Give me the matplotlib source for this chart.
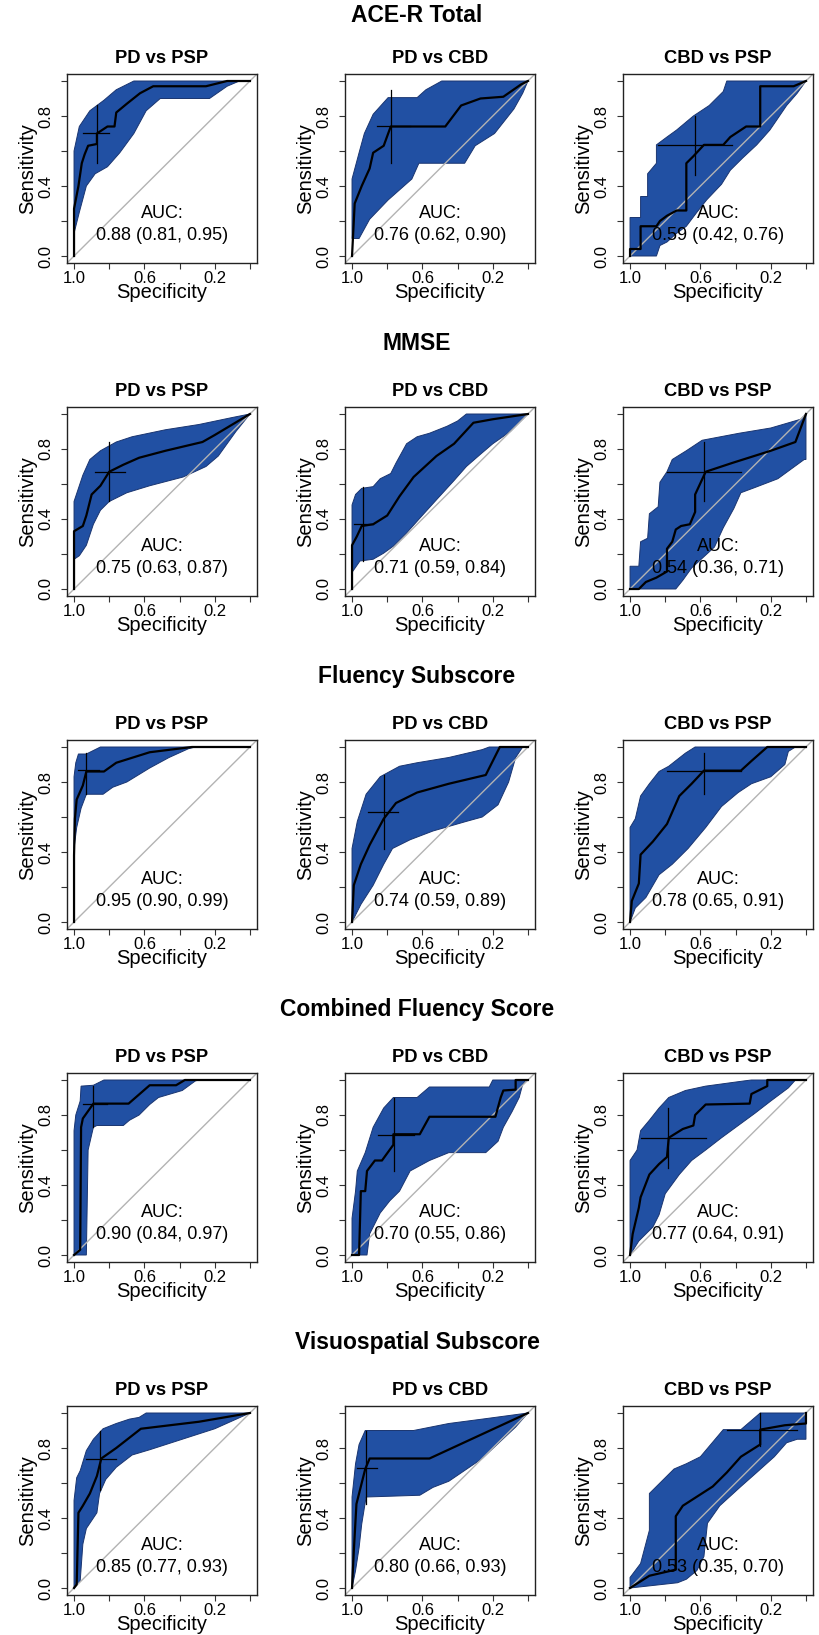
import numpy as np
import matplotlib
matplotlib.use("Agg")
import matplotlib.pyplot as plt

plt.rcParams["font.family"] = ["Liberation Sans", "DejaVu Sans"]

# --- data: points as (1 - specificity, sensitivity) ---
ROW_TITLES = ["ACE-R Total", "MMSE", "Fluency Subscore",
              "Combined Fluency Score", "Visuospatial Subscore"]
COL_TITLES = ["PD vs PSP", "PD vs CBD", "CBD vs PSP"]

# ACE-R Total
ACE_PD_PSP_ROC = [(0, 0), (0, .27), (.025, .40), (.044, .53), (.06, .58), (.08, .63), (.13, .64),
                  (.13, .70), (.19, .74), (.23, .74), (.24, .82), (.30, .87), (.375, .93),
                  (.45, .97), (.75, .97), (.87, 1), (1, 1)]
ACE_PD_PSP_UPPER = [(0, .60), (.03, .74), (.09, .83), (.17, .89), (.24, .95), (.34, 1), (1, 1)]
ACE_PD_PSP_LOWER = [(0, .13), (.03, .25), (.07, .40), (.12, .47), (.19, .51), (.26, .59),
                    (.34, .70), (.41, .83), (.49, .90), (.77, .90), (.87, .97), (.94, 1), (1, 1)]
ACE_PD_PSP_CROSS = (.13, .70, .05, .20, .53, .86)
ACE_PD_PSP_AUC = "0.88 (0.81, 0.95)"

ACE_PD_CBD_ROC = [(0, 0), (.015, .30), (.055, .40), (.10, .50), (.12, .59), (.18, .63), (.22, .74),
                  (.53, .74), (.62, .86), (.73, .90), (.86, .91), (.96, .98), (1, 1)]
ACE_PD_CBD_UPPER = [(0, .44), (.04, .59), (.07, .70), (.12, .81), (.205, .905), (.37, .905),
                    (.42, .95), (.51, 1), (1, 1)]
ACE_PD_CBD_LOWER = [(0, .10), (.04, .10), (.10, .21), (.205, .32), (.34, .44), (.38, .53),
                    (.64, .53), (.70, .63), (.81, .70), (.92, .84), (.97, .93), (1, 1)]
ACE_PD_CBD_CROSS = (.22, .74, .14, .33, .53, .95)
ACE_PD_CBD_AUC = "0.76 (0.62, 0.90)"

ACE_CBD_PSP_ROC = [(0, 0), (0, .04), (.06, .04), (.06, .17), (.15, .17), (.17, .20), (.21, .23),
                   (.265, .26), (.32, .26), (.32, .53), (.36, .57), (.42, .635), (.53, .635),
                   (.57, .68), (.66, .74), (.74, .74), (.74, .97), (.93, .97), (1, 1)]
ACE_CBD_PSP_UPPER = [(0, .22), (.06, .22), (.06, .34), (.10, .34), (.10, .47), (.15, .53),
                     (.15, .635), (.21, .68), (.265, .72), (.36, .80), (.45, .86), (.53, .94),
                     (.55, 1), (1, 1)]
ACE_CBD_PSP_LOWER = [(0, 0), (.15, 0), (.17, .06), (.21, .08), (.265, .13), (.32, .17),
                     (.38, .25), (.435, .32), (.52, .41), (.57, .49), (.64, .56), (.72, .635),
                     (.795, .72), (.89, .86), (.95, .93), (1, 1)]
ACE_CBD_PSP_CROSS = (.37, .635, .16, .58, .465, .80)
ACE_CBD_PSP_AUC = "0.59 (0.42, 0.76)"

# MMSE
MMSE_PD_PSP_ROC = [(0, 0), (0, .33), (.05, .36), (.07, .42), (.10, .54), (.15, .59), (.20, .67),
                   (.28, .71), (.37, .75), (.52, .79), (.73, .84), (.80, .88), (1, 1)]
MMSE_PD_PSP_UPPER = [(0, .50), (.05, .65), (.09, .74), (.15, .79), (.24, .84), (.33, .87),
                     (.52, .91), (.71, .94), (.90, .98), (1, 1)]
MMSE_PD_PSP_LOWER = [(0, .17), (.03, .19), (.07, .25), (.11, .37), (.15, .45), (.20, .50),
                     (.30, .55), (.43, .59), (.62, .64), (.75, .70), (.82, .76), (.92, .90), (1, 1)]
MMSE_PD_PSP_CROSS = (.20, .67, .12, .29, .50, .84)
MMSE_PD_PSP_AUC = "0.75 (0.63, 0.87)"

MMSE_PD_CBD_ROC = [(0, 0), (0, .25), (.027, .30), (.055, .36), (.12, .37), (.20, .42), (.27, .53),
                   (.35, .64), (.48, .76), (.58, .83), (.69, .95), (.80, .97), (1, 1)]
MMSE_PD_CBD_UPPER = [(0, .48), (.02, .54), (.055, .575), (.12, .585), (.16, .63), (.22, .66),
                     (.25, .72), (.31, .83), (.37, .87), (.44, .89), (.54, .93), (.60, .96),
                     (.65, 1), (1, 1)]
MMSE_PD_CBD_LOWER = [(0, .095), (.045, .16), (.12, .17), (.18, .205), (.235, .245), (.31, .32),
                     (.39, .41), (.48, .51), (.58, .62), (.65, .70), (.73, .77), (.80, .83),
                     (.90, .90), (1, 1)]
MMSE_PD_CBD_CROSS = (.06, .37, .01, .12, .16, .58)
MMSE_PD_CBD_AUC = "0.71 (0.59, 0.84)"

MMSE_CBD_PSP_ROC = [(0, 0), (.05, 0), (.09, .04), (.15, .065), (.21, .10), (.21, .23), (.24, .27),
                    (.26, .34), (.29, .36), (.34, .37), (.37, .44), (.37, .54), (.43, .67),
                    (.58, .72), (.80, .79), (.94, .84), (1, 1)]
MMSE_CBD_PSP_UPPER = [(0, .13), (.05, .13), (.06, .27), (.10, .29), (.11, .43), (.16, .47),
                      (.17, .61), (.21, .67), (.24, .74), (.32, .79), (.41, .85), (.62, .89),
                      (.80, .92), (.97, .97), (1, 1)]
MMSE_CBD_PSP_LOWER = [(0, 0), (.26, 0), (.30, .05), (.35, .12), (.48, .24), (.53, .35),
                      (.59, .46), (.63, .55), (.71, .58), (.84, .63), (.99, .74), (1, .74), (1, 1)]
MMSE_CBD_PSP_CROSS = (.42, .67, .21, .63, .50, .84)
MMSE_CBD_PSP_AUC = "0.54 (0.36, 0.71)"

# Fluency Subscore
FLU_PD_PSP_ROC = [(0, 0), (0, .38), (.005, .59), (.015, .70), (.05, .78), (.07, .86), (.17, .86),
                  (.24, .91), (.43, .97), (.67, 1), (1, 1)]
FLU_PD_PSP_UPPER = [(0, .83), (.01, .91), (.025, .96), (.07, .96), (.15, 1), (1, 1)]
FLU_PD_PSP_LOWER = [(0, .42), (.015, .54), (.04, .65), (.07, .73), (.165, .73), (.22, .77),
                    (.30, .80), (.43, .88), (.54, .94), (.65, .99), (.69, 1), (1, 1)]
FLU_PD_PSP_CROSS = (.07, .867, .025, .14, .73, .965)
FLU_PD_PSP_AUC = "0.95 (0.90, 0.99)"

FLU_PD_CBD_ROC = [(0, 0), (.01, .21), (.05, .33), (.10, .44), (.18, .59), (.25, .68), (.37, .74),
                  (.55, .79), (.76, .84), (.84, 1), (1, 1)]
FLU_PD_CBD_UPPER = [(0, .42), (.03, .575), (.08, .73), (.16, .83), (.27, .89), (.37, .91),
                    (.55, .94), (.74, .985), (.78, 1), (1, 1)]
FLU_PD_CBD_LOWER = [(0, 0), (.05, .10), (.12, .21), (.18, .33), (.23, .42), (.33, .47),
                    (.46, .52), (.65, .575), (.74, .60), (.83, .67), (.89, .80), (.93, .94),
                    (.97, 1), (1, 1)]
FLU_PD_CBD_CROSS = (.18, .63, .09, .26, .42, .84)
FLU_PD_CBD_AUC = "0.74 (0.59, 0.89)"

FLU_CBD_PSP_ROC = [(0, 0), (.01, .12), (.05, .22), (.06, .385), (.13, .46), (.21, .56), (.28, .72),
                   (.35, .79), (.42, .865), (.63, .865), (.69, .92), (.78, 1), (1, 1)]
FLU_CBD_PSP_UPPER = [(0, .54), (.03, .59), (.06, .72), (.11, .79), (.165, .86), (.22, .89),
                     (.315, .965), (.37, 1), (1, 1)]
FLU_CBD_PSP_LOWER = [(0, 0), (.03, .08), (.09, .14), (.165, .27), (.24, .33), (.33, .42),
                     (.43, .54), (.52, .66), (.615, .74), (.69, .79), (.80, .83), (.88, .90),
                     (.90, .975), (.94, 1), (1, 1)]
FLU_CBD_PSP_CROSS = (.42, .865, .21, .63, .73, .965)
FLU_CBD_PSP_AUC = "0.78 (0.65, 0.91)"

# Combined Fluency Score
CMB_PD_PSP_ROC = [(0, 0), (.035, .03), (.04, .73), (.05, .78), (.11, .865), (.31, .865),
                  (.43, .97), (.58, .97), (.63, 1), (1, 1)]
CMB_PD_PSP_UPPER = [(0, .71), (.01, .80), (.035, .88), (.04, .965), (.11, .97), (.17, 1), (1, 1)]
CMB_PD_PSP_LOWER = [(0, 0), (.07, 0), (.08, .60), (.11, .73), (.13, .74), (.28, .74),
                    (.315, .77), (.37, .80), (.43, .86), (.48, .90), (.615, .94), (.69, .995),
                    (.71, 1), (1, 1)]
CMB_PD_PSP_CROSS = (.11, .865, .05, .19, .73, .965)
CMB_PD_PSP_AUC = "0.90 (0.84, 0.97)"

CMB_PD_CBD_ROC = [(0, 0), (.04, 0), (.05, .365), (.075, .365), (.085, .48), (.13, .54),
                  (.17, .54), (.235, .63), (.235, .69), (.385, .69), (.44, .79), (.815, .79),
                  (.845, .90), (.86, .94), (.93, .945), (.93, 1), (1, 1)]
CMB_PD_CBD_UPPER = [(0, .21), (.02, .365), (.03, .48), (.075, .585), (.12, .73), (.18, .84),
                    (.235, .90), (.37, .90), (.44, .96), (.78, .96), (.80, 1), (1, 1)]
CMB_PD_CBD_LOWER = [(0, 0), (.085, 0), (.10, .12), (.16, .24), (.215, .31), (.27, .365),
                    (.33, .48), (.44, .54), (.55, .585), (.76, .585), (.83, .65), (.86, .73),
                    (.91, .82), (.95, .90), (.97, .975), (.99, 1), (1, 1)]
CMB_PD_CBD_CROSS = (.24, .685, .15, .35, .48, .895)
CMB_PD_CBD_AUC = "0.70 (0.55, 0.86)"

CMB_CBD_PSP_ROC = [(0, 0), (.015, .12), (.05, .27), (.06, .33), (.11, .46), (.165, .52),
                   (.21, .56), (.22, .67), (.30, .72), (.36, .74), (.37, .80), (.43, .86),
                   (.68, .865), (.69, .92), (.78, .965), (.78, 1), (1, 1)]
CMB_CBD_PSP_UPPER = [(0, .54), (.04, .60), (.06, .71), (.11, .77), (.165, .84), (.22, .90),
                     (.315, .94), (.43, .965), (.65, .995), (.69, 1), (1, 1)]
CMB_CBD_PSP_LOWER = [(0, 0), (.05, .08), (.13, .16), (.165, .23), (.20, .35), (.28, .46),
                     (.35, .54), (.43, .60), (.52, .67), (.615, .74), (.71, .81), (.80, .88),
                     (.90, .955), (.94, 1), (1, 1)]
CMB_CBD_PSP_CROSS = (.215, .667, .06, .43, .50, .84)
CMB_CBD_PSP_AUC = "0.77 (0.64, 0.91)"

# Visuospatial Subscore
VIS_PD_PSP_ROC = [(0, 0), (.015, .02), (.025, .43), (.05, .47), (.09, .54), (.13, .64),
                  (.155, .74), (.24, .80), (.38, .91), (.71, .95), (1, 1)]
VIS_PD_PSP_UPPER = [(0, .50), (.015, .63), (.035, .67), (.07, .785), (.11, .85), (.165, .91),
                    (.24, .94), (.315, .965), (.37, .975), (.41, 1), (1, 1)]
VIS_PD_PSP_LOWER = [(0, 0), (.035, .04), (.05, .25), (.07, .34), (.13, .43), (.145, .54),
                    (.18, .62), (.24, .69), (.33, .76), (.43, .79), (.615, .85), (.80, .91),
                    (.90, .955), (1, 1)]
VIS_PD_PSP_CROSS = (.15, .74, .07, .24, .56, .90)
VIS_PD_PSP_AUC = "0.85 (0.77, 0.93)"

VIS_PD_CBD_ROC = [(0, 0), (.01, .21), (.025, .48), (.075, .68), (.10, .74), (.44, .74), (1, 1)]
VIS_PD_CBD_UPPER = [(0, .52), (.02, .71), (.04, .82), (.075, .90), (.35, .90), (.55, .94),
                    (.74, .965), (1, 1)]
VIS_PD_CBD_LOWER = [(0, 0), (.02, .10), (.04, .23), (.055, .365), (.08, .52), (.385, .53),
                    (.46, .575), (.55, .61), (.74, .74), (.93, .92), (1, 1)]
VIS_PD_CBD_CROSS = (.08, .685, .03, .14, .48, .895)
VIS_PD_CBD_AUC = "0.80 (0.66, 0.93)"

VIS_CBD_PSP_ROC = [(0, 0), (.11, .07), (.26, .105), (.26, .41), (.30, .47), (.47, .58),
                   (.55, .66), (.63, .75), (.74, .82), (.74, .905), (.88, .93), (1, .94), (1, 1)]
VIS_CBD_PSP_UPPER = [(0, .06), (.06, .14), (.11, .33), (.11, .54), (.17, .60), (.25, .68),
                     (.32, .71), (.40, .75), (.53, .905), (.63, .905), (.74, 1), (1, 1)]
VIS_CBD_PSP_LOWER = [(0, 0), (.27, .03), (.32, .05), (.38, .10), (.42, .18), (.44, .37),
                     (.51, .47), (.63, .58), (.72, .66), (.82, .75), (.89, .83), (.95, .85),
                     (1, .85), (1, 1)]
VIS_CBD_PSP_CROSS = (.74, .905, .55, .95, .81, 1.0)
VIS_CBD_PSP_AUC = "0.53 (0.35, 0.70)"

PANELS = [
    [(ACE_PD_PSP_ROC, ACE_PD_PSP_UPPER, ACE_PD_PSP_LOWER, ACE_PD_PSP_CROSS, ACE_PD_PSP_AUC),
     (ACE_PD_CBD_ROC, ACE_PD_CBD_UPPER, ACE_PD_CBD_LOWER, ACE_PD_CBD_CROSS, ACE_PD_CBD_AUC),
     (ACE_CBD_PSP_ROC, ACE_CBD_PSP_UPPER, ACE_CBD_PSP_LOWER, ACE_CBD_PSP_CROSS, ACE_CBD_PSP_AUC)],
    [(MMSE_PD_PSP_ROC, MMSE_PD_PSP_UPPER, MMSE_PD_PSP_LOWER, MMSE_PD_PSP_CROSS, MMSE_PD_PSP_AUC),
     (MMSE_PD_CBD_ROC, MMSE_PD_CBD_UPPER, MMSE_PD_CBD_LOWER, MMSE_PD_CBD_CROSS, MMSE_PD_CBD_AUC),
     (MMSE_CBD_PSP_ROC, MMSE_CBD_PSP_UPPER, MMSE_CBD_PSP_LOWER, MMSE_CBD_PSP_CROSS, MMSE_CBD_PSP_AUC)],
    [(FLU_PD_PSP_ROC, FLU_PD_PSP_UPPER, FLU_PD_PSP_LOWER, FLU_PD_PSP_CROSS, FLU_PD_PSP_AUC),
     (FLU_PD_CBD_ROC, FLU_PD_CBD_UPPER, FLU_PD_CBD_LOWER, FLU_PD_CBD_CROSS, FLU_PD_CBD_AUC),
     (FLU_CBD_PSP_ROC, FLU_CBD_PSP_UPPER, FLU_CBD_PSP_LOWER, FLU_CBD_PSP_CROSS, FLU_CBD_PSP_AUC)],
    [(CMB_PD_PSP_ROC, CMB_PD_PSP_UPPER, CMB_PD_PSP_LOWER, CMB_PD_PSP_CROSS, CMB_PD_PSP_AUC),
     (CMB_PD_CBD_ROC, CMB_PD_CBD_UPPER, CMB_PD_CBD_LOWER, CMB_PD_CBD_CROSS, CMB_PD_CBD_AUC),
     (CMB_CBD_PSP_ROC, CMB_CBD_PSP_UPPER, CMB_CBD_PSP_LOWER, CMB_CBD_PSP_CROSS, CMB_CBD_PSP_AUC)],
    [(VIS_PD_PSP_ROC, VIS_PD_PSP_UPPER, VIS_PD_PSP_LOWER, VIS_PD_PSP_CROSS, VIS_PD_PSP_AUC),
     (VIS_PD_CBD_ROC, VIS_PD_CBD_UPPER, VIS_PD_CBD_LOWER, VIS_PD_CBD_CROSS, VIS_PD_CBD_AUC),
     (VIS_CBD_PSP_ROC, VIS_CBD_PSP_UPPER, VIS_CBD_PSP_LOWER, VIS_CBD_PSP_CROSS, VIS_CBD_PSP_AUC)],
]

TICKS = [0, 0.2, 0.4, 0.6, 0.8, 1.0]
Y_TICKLABELS = ["0.0", "", "0.4", "", "0.8", ""]
X_TICKLABELS = ["", "0.2", "", "0.6", "", "1.0"]

BAND_COLOR = "#2150a3"
BAND_EDGE = "#1a3570"

# --- layout in pixels ---
W, H = 819, 1635
BOX_W, BOX_H = 190, 189
COL_LEFT = [67, 345, 623]
ROW_TOP = [74, 407, 740, 1073, 1406]
ROW_TITLE_BASE = [22, 350, 683, 1016, 1349]

fig = plt.figure(figsize=(W / 100, H / 100), dpi=100)

for r in range(5):
    fig.text(417 / W, 1 - ROW_TITLE_BASE[r] / H, ROW_TITLES[r], ha="center",
             va="baseline", fontsize=16.5, fontweight="bold")
    for c in range(3):
        roc, upper, lower, cross, auc = PANELS[r][c]
        ax = fig.add_axes([COL_LEFT[c] / W, 1 - (ROW_TOP[r] + BOX_H) / H,
                           BOX_W / W, BOX_H / H])
        ax.set_xlim(1.04, -0.04)
        ax.set_ylim(-0.04, 1.04)

        # confidence band for sensitivity
        up = np.array(upper)
        lo = np.array(lower)[::-1]
        band_x = 1 - np.concatenate([up[:, 0], lo[:, 0]])
        band_y = np.concatenate([up[:, 1], lo[:, 1]])
        ax.fill(band_x, band_y, facecolor=BAND_COLOR, edgecolor=BAND_EDGE,
                lw=0.7, zorder=1)

        ax.axline((1, 0), (0, 1), color="#b3b3b3", lw=1.0, zorder=2)

        curve = np.array(roc)
        ax.plot(1 - curve[:, 0], curve[:, 1], color="black", lw=1.6, zorder=3)

        # best threshold with its CI on both axes
        f, s, f_lo, f_hi, s_lo, s_hi = cross
        ax.plot([1 - f_lo, 1 - f_hi], [s, s], color="black", lw=0.9, zorder=4)
        ax.plot([1 - f, 1 - f], [s_lo, s_hi], color="black", lw=0.9, zorder=4)

        ax.text(0.5, 0.217, "AUC:", ha="center", va="baseline", fontsize=13, zorder=5)
        ax.text(0.5, 0.091, auc, ha="center", va="baseline", fontsize=13, zorder=5)

        ax.set_xticks(TICKS)
        ax.set_xticklabels(X_TICKLABELS)
        ax.set_yticks(TICKS)
        ax.set_yticklabels(Y_TICKLABELS, rotation=90, va="center")
        ax.tick_params(axis="both", direction="out", length=4, width=0.8,
                       labelsize=12, color="#333333")
        ax.tick_params(axis="y", pad=6)
        ax.tick_params(axis="x", pad=1.5)
        for sp in ax.spines.values():
            sp.set_linewidth(1.0)
            sp.set_color("#222222")

        ax.set_xlabel("Specificity", fontsize=14.5, labelpad=-2)
        ax.set_ylabel("Sensitivity", fontsize=14.5, labelpad=1)
        ax.set_title(COL_TITLES[c], fontsize=13.2, fontweight="bold", pad=8)

fig.savefig("out.png", dpi=100)
